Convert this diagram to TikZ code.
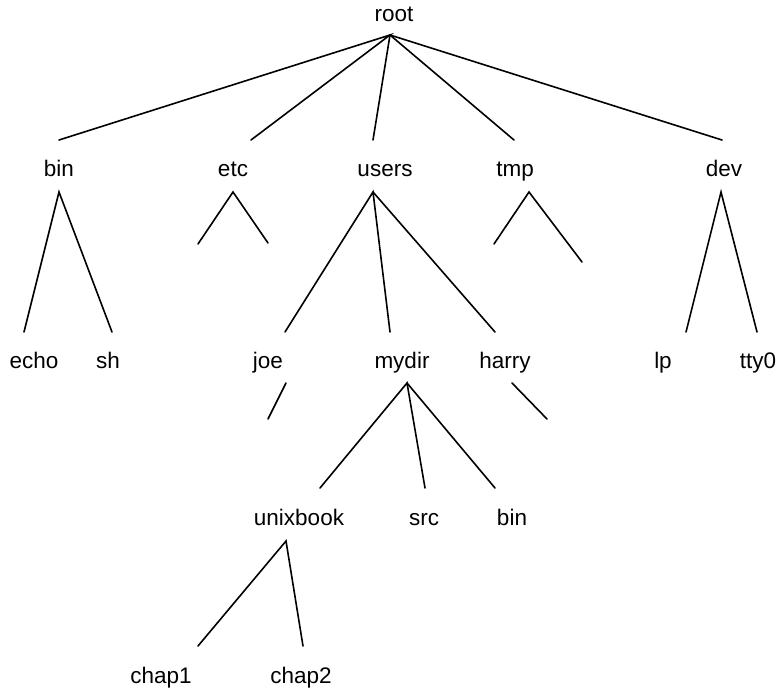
\documentclass[tikz,border=0pt]{standalone}
\usepackage{fontspec}
\setmainfont{Liberation Sans}
\begin{document}
\begin{tikzpicture}[x=1pt,y=-1pt,
  lbl/.style={anchor=base,inner sep=0pt,font=\fontsize{22.5}{27}\selectfont},
  edge/.style={line width=1.6pt,line cap=round}]
\useasboundingbox (0,0) rectangle (781,691);
% labels
\node[lbl] (root) at (394,21) {root};
\node[lbl] (bin) at (59,176) {bin};
\node[lbl] (etc) at (233,176) {etc};
\node[lbl] (users) at (385,176) {users};
\node[lbl] (tmp) at (515,176) {tmp};
\node[lbl] (dev) at (724,176) {dev};
\node[lbl] (echo) at (34,368) {echo};
\node[lbl] (sh) at (108,368) {sh};
\node[lbl] (joe) at (268,368) {joe};
\node[lbl] (mydir) at (402,368) {mydir};
\node[lbl] (harry) at (505,368) {harry};
\node[lbl] (lp) at (663,368) {lp};
\node[lbl] (tty0) at (758,368) {tty0};
\node[lbl] (unixbook) at (299,525) {unixbook};
\node[lbl] (src) at (424,525) {src};
\node[lbl] (bin2) at (512,525) {bin};
\node[lbl] (chap1) at (161,683) {chap1};
\node[lbl] (chap2) at (301,683) {chap2};
% connector points
\coordinate (rootA) at (390,35);
\coordinate (binT) at (59,140);
\coordinate (etcT) at (251,140);
\coordinate (usersT) at (373,140);
\coordinate (tmpT) at (514,140);
\coordinate (devT) at (722,140);
\coordinate (binA) at (59,192);
\coordinate (echoT) at (24,332);
\coordinate (shT) at (112,332);
\coordinate (etcA) at (233,192);
\coordinate (etcL) at (198,244);
\coordinate (etcR) at (268,243);
\coordinate (usersA) at (373,192);
\coordinate (joeT) at (285,332);
\coordinate (mydirT) at (390,332);
\coordinate (harryT) at (495,332);
\coordinate (tmpA) at (529,192);
\coordinate (tmpL) at (494,244);
\coordinate (tmpR) at (582,262);
\coordinate (devA) at (721,192);
\coordinate (lpT) at (686,332);
\coordinate (ttyT) at (757,332);
\coordinate (joeA) at (286,383);
\coordinate (joeL) at (268,419);
\coordinate (mydirA) at (407,383);
\coordinate (unixT) at (320,488);
\coordinate (srcT) at (425,488);
\coordinate (bin2T) at (495,488);
\coordinate (harryA) at (512,383);
\coordinate (harryR) at (547,419);
\coordinate (unixA) at (286,541);
\coordinate (chap1T) at (198,646);
\coordinate (chap2T) at (303,646);
% connectors
\draw[edge] (binT) -- (rootA) -- (etcT);
\draw[edge] (rootA) -- (usersT);
\draw[edge] (rootA) -- (tmpT);
\draw[edge] (rootA) -- (devT);
\draw[edge] (echoT) -- (binA) -- (shT);
\draw[edge] (etcL) -- (etcA) -- (etcR);
\draw[edge] (joeT) -- (usersA) -- (mydirT);
\draw[edge] (usersA) -- (harryT);
\draw[edge] (tmpL) -- (tmpA) -- (tmpR);
\draw[edge] (lpT) -- (devA) -- (ttyT);
\draw[edge] (joeA) -- (joeL);
\draw[edge] (unixT) -- (mydirA) -- (srcT);
\draw[edge] (mydirA) -- (bin2T);
\draw[edge] (harryA) -- (harryR);
\draw[edge] (chap1T) -- (unixA) -- (chap2T);
\end{tikzpicture}
\end{document}
